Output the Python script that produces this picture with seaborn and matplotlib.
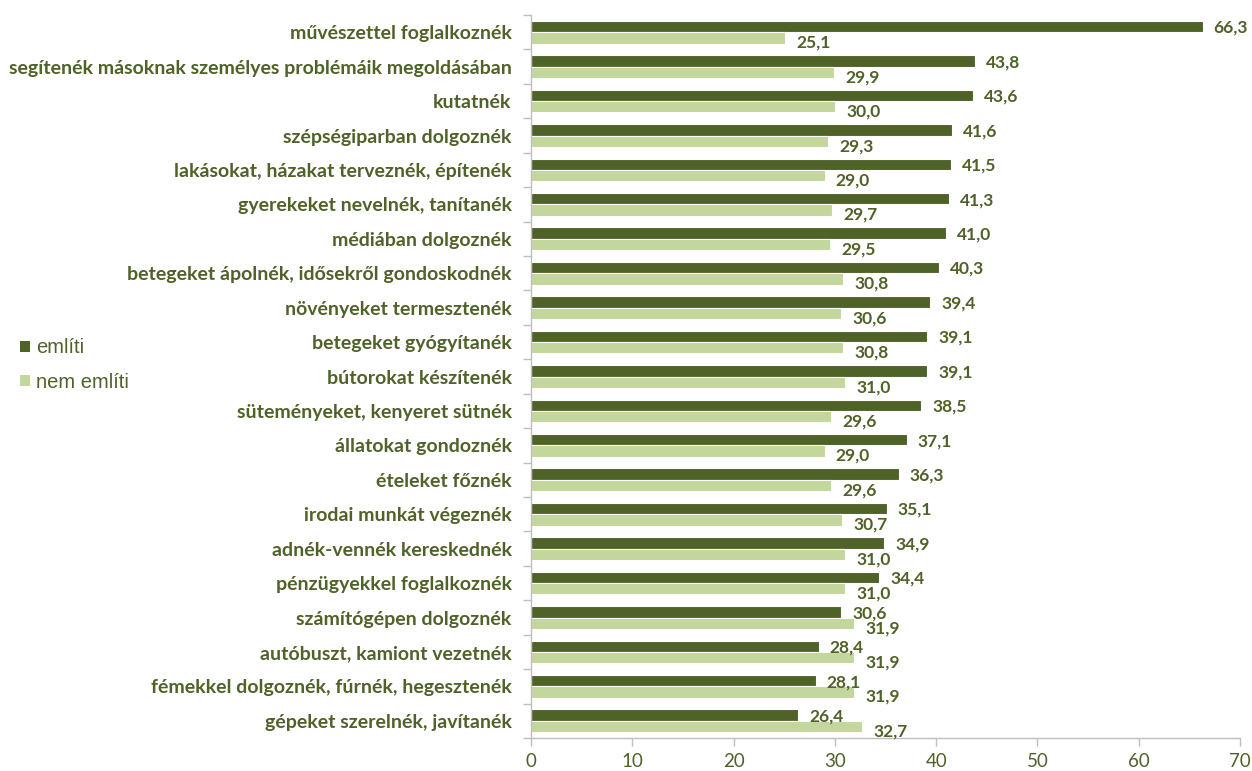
import matplotlib
matplotlib.use("Agg")
import matplotlib.pyplot as plt
from matplotlib.patches import Patch
import seaborn as sns
import pandas as pd
import numpy as np

categories = [
    "művészettel foglalkoznék",
    "segítenék másoknak személyes problémáik megoldásában",
    "kutatnék",
    "szépségiparban dolgoznék",
    "lakásokat, házakat terveznék, építenék",
    "gyerekeket nevelnék, tanítanék",
    "médiában dolgoznék",
    "betegeket ápolnék, idősekről gondoskodnék",
    "növényeket termesztenék",
    "betegeket gyógyítanék",
    "bútorokat készítenék",
    "süteményeket, kenyeret sütnék",
    "állatokat gondoznék",
    "ételeket főznék",
    "irodai munkát végeznék",
    "adnék-vennék kereskednék",
    "pénzügyekkel foglalkoznék",
    "számítógépen dolgoznék",
    "autóbuszt, kamiont vezetnék",
    "fémekkel dolgoznék, fúrnék, hegesztenék",
    "gépeket szerelnék, javítanék",
]
emliti = [66.3, 43.8, 43.6, 41.6, 41.5, 41.3, 41.0, 40.3, 39.4, 39.1, 39.1,
          38.5, 37.1, 36.3, 35.1, 34.9, 34.4, 30.6, 28.4, 28.1, 26.4]
nem_emliti = [25.1, 29.9, 30.0, 29.3, 29.0, 29.7, 29.5, 30.8, 30.6, 30.8, 31.0,
              29.6, 29.0, 29.6, 30.7, 31.0, 31.0, 31.9, 31.9, 31.9, 32.7]
series = ["említi", "nem említi"]
x_ticks = [0, 10, 20, 30, 40, 50, 60, 70]

dark = "#4F6228"
light = "#C3D69B"
axis_grey = "#BFBFBF"

df = pd.DataFrame({
    "kategória": categories * 2,
    "érték": emliti + nem_emliti,
    "csoport": [series[0]] * len(categories) + [series[1]] * len(categories),
})

sns.set_theme(style="white")
plt.rcParams["font.family"] = ["Lato", "DejaVu Sans"]

W, H = 1252, 771
fig = plt.figure(figsize=(W / 100, H / 100), dpi=100)
ax = fig.add_axes([531 / W, 1 - 738 / H, (1240 - 531) / W, (738 - 15) / H])

sns.barplot(data=df, x="érték", y="kategória", hue="csoport", orient="h",
            palette=[dark, light], width=0.66, ax=ax, legend=False,
            edgecolor="white", linewidth=0.8, saturation=1)

fmt = lambda v: f"{v:.1f}".replace(".", ",")
for cont, vals, dy in zip(ax.containers, [emliti, nem_emliti], [-1.0, -3.5]):
    for bar, v in zip(cont, vals):
        y = bar.get_y() + bar.get_height() / 2
        ax.annotate(fmt(v), xy=(bar.get_width(), y), xytext=(8, dy),
                    textcoords="offset points", ha="left", va="center",
                    fontsize=12.5, fontweight="bold", color=dark)

ax.set_xlim(0, 70)
ax.set_ylim(len(categories) - 0.5, -0.5)
ax.set_xticks(x_ticks)
ax.set_xticklabels([str(t) for t in x_ticks], fontsize=13.5, color=dark)
ax.set_xlabel("")
ax.set_ylabel("")
ax.tick_params(axis="x", length=6, width=1, color=axis_grey, direction="out",
               pad=5, bottom=True)
ax.set_yticks(range(len(categories)))
ax.set_yticklabels(categories, fontsize=14, fontweight="bold", color=dark)
ax.tick_params(axis="y", which="major", length=0, pad=14)
ax.set_yticks(np.arange(-0.5, len(categories), 1), minor=True)
ax.tick_params(axis="y", which="minor", length=6, width=1, color=axis_grey,
               direction="out", left=True)

for side in ["top", "right"]:
    ax.spines[side].set_visible(False)
for side in ["left", "bottom"]:
    ax.spines[side].set_color(axis_grey)
    ax.spines[side].set_linewidth(1)

handles = [Patch(facecolor=dark, edgecolor="none"), Patch(facecolor=light, edgecolor="none")]
fig.legend(handles, series, loc="center left", bbox_to_anchor=(2 / W, 1 - 365 / H),
           frameon=False, prop={"family": "Liberation Sans", "size": 14.5},
           labelcolor=dark, handlelength=0.5, handleheight=0.5, handletextpad=0.3,
           labelspacing=0.75)

fig.savefig("out.png", dpi=100)
